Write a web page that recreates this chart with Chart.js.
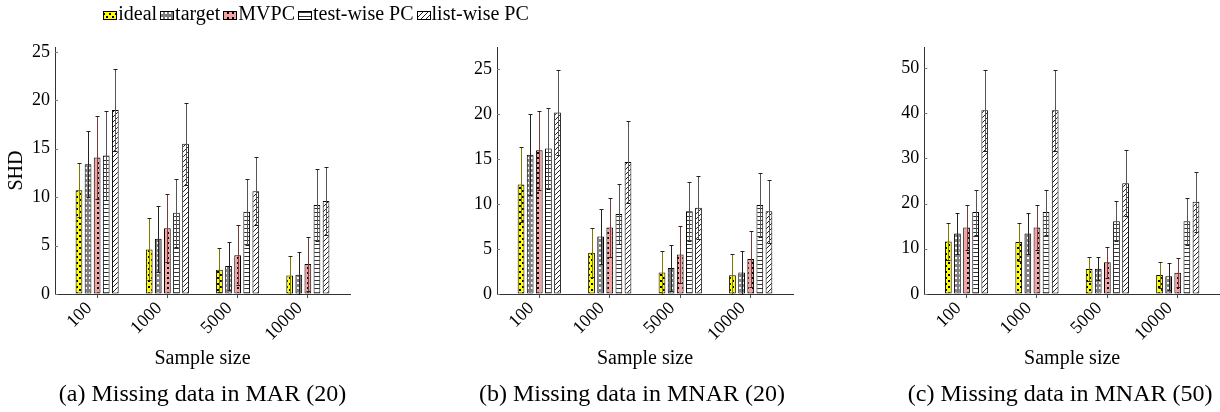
<!DOCTYPE html>
<html><head><meta charset="utf-8">
<script src="https://cdn.jsdelivr.net/npm/chart.js@4"></script>
<style>
html,body{margin:0;padding:0;background:#fff;}
body{width:1220px;height:412px;position:relative;overflow:hidden;}
canvas{position:absolute;top:0;}
</style></head><body>
<canvas id="ca" width="560" height="412" style="left:0px"></canvas>
<canvas id="cb" width="410" height="412" style="left:410px"></canvas>
<canvas id="cc" width="390" height="412" style="left:830px"></canvas>
<script>
const sampleSizes = ['100', '1000', '5000', '10000'];
const methods = ['ideal', 'target', 'MVPC', 'test-wise PC', 'list-wise PC'];

// rows = methods, columns = sample sizes
const marMeans = [
  [10.7, 4.6, 2.5, 1.9],
  [13.4, 5.7, 2.9, 2.0],
  [14.1, 6.8, 4.0, 3.1],
  [14.3, 8.4, 8.5, 9.2],
  [19.0, 15.5, 10.6, 9.6]
];
const marErrs = [
  [2.8, 3.2, 2.3, 2.0],
  [3.4, 3.4, 2.5, 2.3],
  [4.3, 3.5, 3.1, 2.8],
  [4.6, 3.5, 3.4, 3.7],
  [4.2, 4.2, 3.5, 3.5]
];
const mnar20Means = [
  [12.2, 4.6, 2.4, 2.1],
  [15.5, 6.4, 2.9, 2.4],
  [16.0, 7.4, 4.4, 3.9],
  [16.2, 8.9, 9.2, 9.9],
  [20.2, 14.7, 9.6, 9.2]
];
const mnar20Errs = [
  [4.2, 2.7, 2.4, 2.3],
  [4.5, 3.1, 2.6, 2.4],
  [4.4, 3.3, 3.2, 3.1],
  [4.5, 3.3, 3.3, 3.6],
  [4.7, 4.6, 3.5, 3.5]
];
const mnar50Means = [
  [11.6, 11.5, 5.5, 4.2],
  [13.4, 13.4, 5.6, 3.9],
  [14.7, 14.7, 7.0, 4.7],
  [18.1, 18.1, 16.1, 16.1],
  [40.6, 40.6, 24.5, 20.4]
];
const mnar50Errs = [
  [4.0, 4.1, 2.7, 2.9],
  [4.5, 4.5, 2.5, 3.0],
  [4.9, 4.9, 3.4, 3.2],
  [5.0, 5.0, 4.4, 5.2],
  [9.0, 9.0, 7.3, 6.6]
];
const captions = ['(a) Missing data in MAR (20)', '(b) Missing data in MNAR (20)', '(c) Missing data in MNAR (50)'];
const xTitle = 'Sample size';
const yTitle = 'SHD';

const SERIF = '"Liberation Serif", "DejaVu Serif", serif';
const errColors = ['#7a7a00', '#222222', '#7a3c3c', '#555555', '#555555'];

function makePattern(kind) {
  const c = document.createElement('canvas');
  const g = c.getContext('2d');
  if (kind === 0) {
    c.width = 6; c.height = 6;
    g.fillStyle = '#ffff00'; g.fillRect(0, 0, 6, 6);
    g.fillStyle = '#000'; g.fillRect(1, 1, 2, 2); g.fillRect(4, 4, 2, 2);
  } else if (kind === 1) {
    c.width = 4; c.height = 5;
    g.fillStyle = '#808080'; g.fillRect(0, 0, 4, 5);
    g.fillStyle = '#ffffff'; g.fillRect(1, 2, 2, 2);
  } else if (kind === 2) {
    c.width = 5; c.height = 5;
    g.fillStyle = '#f4a3a3'; g.fillRect(0, 0, 5, 5);
    g.fillStyle = '#000'; g.fillRect(2, 2, 2, 2);
  } else if (kind === 3) {
    c.width = 4; c.height = 4;
    g.fillStyle = '#ffffff'; g.fillRect(0, 0, 4, 4);
    g.fillStyle = '#333'; g.fillRect(0, 0, 4, 1);
  } else {
    c.width = 5; c.height = 5;
    g.fillStyle = '#ffffff'; g.fillRect(0, 0, 5, 5);
    g.fillStyle = '#222';
    for (let i = 0; i < 5; i++) g.fillRect(i, 4 - i, 1, 1);
  }
  return g.createPattern(c, 'repeat');
}
const patterns = [0, 1, 2, 3, 4].map(makePattern);

const errorBarPlugin = {
  id: 'errbars',
  afterDatasetsDraw(chart) {
    const ctx = chart.ctx;
    const ys = chart.scales.y;
    chart.data.datasets.forEach((ds, di) => {
      const meta = chart.getDatasetMeta(di);
      meta.data.forEach((bar, i) => {
        const m = ds.data[i].y, e = ds.errs[i];
        const x = Math.round(bar.x) + 0.5;
        const yt = Math.round(ys.getPixelForValue(m + e)) + 0.5;
        const yb = Math.round(ys.getPixelForValue(Math.max(0, m - e))) + 0.5;
        ctx.save();
        ctx.lineWidth = 1;
        ctx.strokeStyle = ds.errColor;
        ctx.beginPath(); ctx.moveTo(x, yt); ctx.lineTo(x, yb); ctx.stroke();
        ctx.strokeStyle = '#222';
        ctx.beginPath();
        ctx.moveTo(x - 2, yt); ctx.lineTo(x + 2, yt);
        ctx.moveTo(x - 2, yb); ctx.lineTo(x + 2, yb);
        ctx.stroke();
        ctx.restore();
      });
    });
  }
};

const innerTickPlugin = {
  id: 'innerTicks',
  afterDraw(chart) {
    const ctx = chart.ctx, ys = chart.scales.y, left = chart.chartArea.left;
    ctx.save();
    ctx.strokeStyle = '#777'; ctx.lineWidth = 1;
    ys.ticks.forEach(t => {
      const y = Math.round(ys.getPixelForValue(t.value)) + 0.5;
      ctx.beginPath(); ctx.moveTo(left, y); ctx.lineTo(left + 3, y); ctx.stroke();
    });
    ctx.restore();
  }
};

const legendPlugin = {
  id: 'topLegend',
  afterDraw(chart) {
    const ctx = chart.ctx;
    ctx.save();
    ctx.font = '20px ' + SERIF;
    const boxW = 14, boxH = 9, gapText = 1, gapItem = 3;
    const widths = methods.map(m => ctx.measureText(m).width);
    const total = widths.reduce((a, w) => a + boxW + gapText + w, 0) + gapItem * (methods.length - 1);
    let x = 316 - total / 2;
    const baseline = 20;
    methods.forEach((m, i) => {
      ctx.fillStyle = patterns[i];
      ctx.fillRect(Math.round(x), 11, boxW, boxH);
      ctx.strokeStyle = '#000'; ctx.lineWidth = 1;
      ctx.strokeRect(Math.round(x) + 0.5, 11.5, boxW - 1, boxH - 1);
      ctx.fillStyle = '#000';
      ctx.textBaseline = 'alphabetic';
      ctx.fillText(m, x + boxW + gapText, baseline);
      x += boxW + gapText + widths[i] + gapItem;
    });
    ctx.restore();
  }
};

function makeChart(id, means, errs, yMax, yStep, padLeft, yWidth, padRight, caption, showYTitle, withLegend, captionFull) {
  const plugins = [errorBarPlugin, innerTickPlugin];
  if (withLegend) plugins.push(legendPlugin);
  return new Chart(document.getElementById(id), {
    type: 'bar',
    data: {
      datasets: methods.map((name, s) => ({
        label: name,
        data: means[s].map((v, i) => ({ x: i, y: v })),
        errs: errs[s],
        errColor: errColors[s],
        backgroundColor: patterns[s],
        borderColor: '#000',
        borderWidth: 1,
        borderSkipped: false,
        categoryPercentage: 0.647,
        barPercentage: 0.74
      }))
    },
    options: {
      responsive: false,
      animation: false,
      devicePixelRatio: 1,
      layout: { padding: { left: padLeft, right: padRight, top: 47, bottom: 0 } },
      plugins: {
        legend: { display: false },
        tooltip: { enabled: false },
        title: {
          display: true, text: caption, position: 'bottom', fullSize: captionFull,
          font: { family: SERIF, size: 24, weight: 'normal' }, color: '#000',
          padding: { top: 0, bottom: 3 }
        }
      },
      scales: {
        x: {
          type: 'linear', min: -0.6, max: 3.6, bounds: 'data', offset: false,
          afterBuildTicks: s => { s.ticks = sampleSizes.map((_, i) => ({ value: i })); },
          afterFit: s => { s.height = 86.2; },
          ticks: {
            callback: v => sampleSizes[v], autoSkip: false, minRotation: 45, maxRotation: 45,
            font: { family: SERIF, size: 18 }, color: '#000', padding: 0, labelOffset: -8
          },
          grid: { display: true, offset: false, drawOnChartArea: false, drawTicks: true, tickLength: 4, color: '#555' },
          border: { display: true, color: '#333', width: 1 },
          title: {
            display: true, text: xTitle, font: { family: SERIF, size: 20 }, color: '#000',
            padding: { top: 0, bottom: 9 }
          }
        },
        y: {
          min: 0, max: yMax, bounds: 'data',
          afterFit: s => { s.width = yWidth; },
          ticks: { stepSize: yStep, includeBounds: false, font: { family: SERIF, size: 18 }, color: '#000', padding: 5 },
          grid: { display: true, drawOnChartArea: false, drawTicks: false },
          border: { display: true, color: '#333', width: 1 },
          title: {
            display: showYTitle, text: yTitle, font: { family: SERIF, size: 20 }, color: '#000',
            padding: { top: 5, bottom: 0 }
          }
        }
      }
    },
    plugins: plugins
  });
}

makeChart('ca', marMeans, marErrs, 25.5, 5, 0, 55, 210, captions[0], true, true, false);
makeChart('cb', mnar20Means, mnar20Errs, 27.5, 5, 61, 26, 27, captions[1], false, false, true);
makeChart('cc', mnar50Means, mnar50Errs, 54.6, 10, 70.3, 24, 0, captions[2], false, false, true);
</script>
</body></html>
